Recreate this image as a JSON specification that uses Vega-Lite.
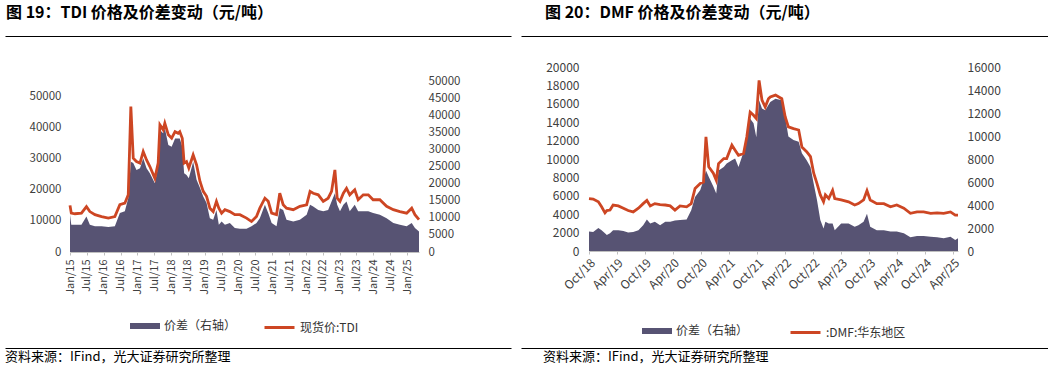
{
  "$schema": "https://vega.github.io/schema/vega-lite/v6.json",
  "padding": {"left": 5, "top": 5, "right": 0, "bottom": 0},
  "background": "white",
  "config": {
    "font": "Noto Sans CJK SC",
    "view": {"stroke": null},
    "legend": {"layout": {"bottom": {"anchor": "middle", "margin": 26}}}
  },
  "spacing": 10,
  "align": "each",
  "hconcat": [
    {
      "spacing": 14,
      "vconcat": [
        {
          "width": 441,
          "height": 25,
          "title": {"text": "图 19：TDI 价格及价差变动（元/吨）", "anchor": "start", "frame": "bounds", "fontSize": 16, "fontWeight": "bold", "color": "#000", "offset": 2, "baseline": "alphabetic", "dx": 1},
          "data": {"values": [{"v": 0}]},
          "encoding": {"y": {"field": "v", "type": "quantitative", "scale": {"domain": [0, 1]}, "axis": null}},
          "layer": [
            {"mark": {"type": "point", "opacity": 0, "size": 0},
             "encoding": {"x": {"field": "v", "type": "quantitative", "scale": {"domain": [0, 1]}, "axis": {"orient": "top", "position": -65, "labels": false, "ticks": false, "grid": false, "title": null, "domainColor": "#000", "domainWidth": 1}}}},
            {"mark": {"type": "point", "opacity": 0, "size": 0},
             "encoding": {"x": {"field": "v", "type": "quantitative", "axis": {"orient": "top", "labels": false, "ticks": false, "grid": false, "title": null, "domainColor": "#000", "domainWidth": 1}}}}
          ],
          "resolve": {"axis": {"x": "independent"}}
        },
        {
          "width": 349,
          "height": 171,
          "data": {"values": [
            {"date": "2015-01-01", "price": 15000, "spread": 10900},
            {"date": "2015-01-15", "price": 12500, "spread": 8000},
            {"date": "2015-02-24", "price": 12300, "spread": 8000},
            {"date": "2015-05-05", "price": 12500, "spread": 8000},
            {"date": "2015-06-28", "price": 14600, "spread": 10400},
            {"date": "2015-08-04", "price": 13000, "spread": 8000},
            {"date": "2015-09-28", "price": 12000, "spread": 7500},
            {"date": "2015-12-09", "price": 11400, "spread": 7500},
            {"date": "2016-02-20", "price": 10900, "spread": 7300},
            {"date": "2016-05-01", "price": 11400, "spread": 7500},
            {"date": "2016-06-24", "price": 15200, "spread": 11400},
            {"date": "2016-08-17", "price": 15700, "spread": 11900},
            {"date": "2016-09-23", "price": 18400, "spread": 15700},
            {"date": "2016-10-21", "price": 46800, "spread": 26400},
            {"date": "2016-11-16", "price": 30200, "spread": 26000},
            {"date": "2016-12-21", "price": 29100, "spread": 24000},
            {"date": "2017-01-28", "price": 28600, "spread": 24500},
            {"date": "2017-03-04", "price": 32300, "spread": 27400},
            {"date": "2017-04-09", "price": 29600, "spread": 24500},
            {"date": "2017-05-15", "price": 27500, "spread": 23000},
            {"date": "2017-07-08", "price": 23700, "spread": 20100},
            {"date": "2017-08-13", "price": 28600, "spread": 25000},
            {"date": "2017-09-01", "price": 40900, "spread": 35700},
            {"date": "2017-10-06", "price": 39300, "spread": 34700},
            {"date": "2017-10-24", "price": 41400, "spread": 36200},
            {"date": "2017-12-01", "price": 37700, "spread": 31300},
            {"date": "2018-01-06", "price": 36600, "spread": 30800},
            {"date": "2018-02-12", "price": 38700, "spread": 33200},
            {"date": "2018-03-17", "price": 38200, "spread": 33200},
            {"date": "2018-04-04", "price": 38700, "spread": 33200},
            {"date": "2018-05-01", "price": 36600, "spread": 30800},
            {"date": "2018-05-21", "price": 28600, "spread": 23000},
            {"date": "2018-06-16", "price": 29100, "spread": 22500},
            {"date": "2018-07-11", "price": 27000, "spread": 21600},
            {"date": "2018-08-27", "price": 31200, "spread": 26400},
            {"date": "2018-10-03", "price": 28000, "spread": 21100},
            {"date": "2018-11-09", "price": 22700, "spread": 18700},
            {"date": "2018-12-14", "price": 19500, "spread": 16200},
            {"date": "2019-01-19", "price": 17900, "spread": 14300},
            {"date": "2019-02-24", "price": 14100, "spread": 9900},
            {"date": "2019-04-01", "price": 13000, "spread": 9400},
            {"date": "2019-05-06", "price": 16300, "spread": 12300},
            {"date": "2019-06-01", "price": 14100, "spread": 8000},
            {"date": "2019-07-01", "price": 12500, "spread": 8900},
            {"date": "2019-08-06", "price": 13600, "spread": 8000},
            {"date": "2019-09-28", "price": 13000, "spread": 8500},
            {"date": "2019-11-21", "price": 12000, "spread": 7000},
            {"date": "2020-01-15", "price": 12000, "spread": 6800},
            {"date": "2020-03-27", "price": 10900, "spread": 6800},
            {"date": "2020-05-20", "price": 9800, "spread": 7500},
            {"date": "2020-07-13", "price": 11400, "spread": 8500},
            {"date": "2020-08-18", "price": 14100, "spread": 9900},
            {"date": "2020-10-12", "price": 17300, "spread": 13800},
            {"date": "2020-11-17", "price": 16300, "spread": 11400},
            {"date": "2020-12-24", "price": 12500, "spread": 8500},
            {"date": "2021-02-15", "price": 12000, "spread": 7500},
            {"date": "2021-03-22", "price": 18900, "spread": 12800},
            {"date": "2021-04-28", "price": 15200, "spread": 12300},
            {"date": "2021-06-03", "price": 14100, "spread": 9400},
            {"date": "2021-08-15", "price": 13600, "spread": 8900},
            {"date": "2021-10-26", "price": 14700, "spread": 9400},
            {"date": "2022-01-07", "price": 15200, "spread": 10900},
            {"date": "2022-02-13", "price": 19500, "spread": 13800},
            {"date": "2022-03-19", "price": 18900, "spread": 13300},
            {"date": "2022-05-13", "price": 18400, "spread": 12300},
            {"date": "2022-07-06", "price": 16300, "spread": 11900},
            {"date": "2022-08-28", "price": 17300, "spread": 12300},
            {"date": "2022-10-04", "price": 19500, "spread": 14800},
            {"date": "2022-11-09", "price": 26400, "spread": 17200},
            {"date": "2022-12-04", "price": 17300, "spread": 13800},
            {"date": "2023-01-03", "price": 16300, "spread": 11900},
            {"date": "2023-02-09", "price": 18900, "spread": 13800},
            {"date": "2023-03-15", "price": 20500, "spread": 14800},
            {"date": "2023-04-19", "price": 18400, "spread": 11900},
            {"date": "2023-06-12", "price": 20000, "spread": 13800},
            {"date": "2023-07-19", "price": 16800, "spread": 11900},
            {"date": "2023-09-12", "price": 18400, "spread": 11900},
            {"date": "2023-11-06", "price": 18400, "spread": 11900},
            {"date": "2023-12-28", "price": 16800, "spread": 11400},
            {"date": "2024-03-10", "price": 16800, "spread": 10900},
            {"date": "2024-05-22", "price": 14700, "spread": 9900},
            {"date": "2024-08-03", "price": 13600, "spread": 8500},
            {"date": "2024-10-13", "price": 13000, "spread": 8000},
            {"date": "2024-12-25", "price": 12500, "spread": 7500},
            {"date": "2025-02-18", "price": 14100, "spread": 8500},
            {"date": "2025-03-25", "price": 12000, "spread": 7000},
            {"date": "2025-05-08", "price": 10400, "spread": 6000}
          ]},
          "encoding": {
            "x": {"field": "date", "type": "temporal", "scale": {"type": "utc", "domain": [1420070400000, 1746662400000]},
              "axis": {"title": null, "grid": false, "format": "%b/%y", "labelAngle": -90, "labelFontSize": 11, "labelColor": "#404040", "labelOverlap": false, "domainColor": "#bfbfbf", "tickColor": "#bfbfbf", "tickSize": 3, "labelPadding": 4,
                "values": [1420070400000, 1435708800000, 1451606400000, 1467331200000, 1483228800000, 1498867200000, 1514764800000, 1530403200000, 1546300800000, 1561939200000, 1577836800000, 1593561600000, 1609459200000, 1625097600000, 1640995200000, 1656633600000, 1672531200000, 1688169600000, 1704067200000, 1719792000000, 1735689600000]}}
          },
          "layer": [
            {
              "mark": {"type": "area", "color": "#575373"},
              "encoding": {
                "y": {"field": "spread", "type": "quantitative", "scale": {"domain": [0, 50000]},
                  "axis": {"orient": "right", "title": null, "grid": false, "domain": false, "ticks": false, "format": "d", "labelPadding": 9, "labelFontSize": 11.5, "labelColor": "#404040", "labelOverlap": false, "values": [0, 5000, 10000, 15000, 20000, 25000, 30000, 35000, 40000, 45000, 50000]}},
                "fill": {"datum": "价差（右轴）", "type": "nominal", "scale": {"range": ["#575373"]},
                  "legend": {"orient": "bottom", "title": null, "symbolType": "M-1,-0.2H1V0.2H-1Z", "symbolSize": 900, "symbolStrokeWidth": 0, "labelFontSize": 12, "labelColor": "#333", "offset": 16}}
              }
            },
            {
              "mark": {"type": "line", "strokeWidth": 2.8},
              "encoding": {
                "y": {"field": "price", "type": "quantitative", "scale": {"domain": [0, 55000]},
                  "axis": {"orient": "left", "title": null, "grid": false, "domain": false, "ticks": false, "format": "d", "labelPadding": 9, "labelFontSize": 11.5, "labelColor": "#404040", "labelOverlap": false, "values": [0, 10000, 20000, 30000, 40000, 50000]}},
                "stroke": {"datum": "现货价:TDI", "type": "nominal", "scale": {"range": ["#cd4623"]},
                  "legend": {"orient": "bottom", "title": null, "symbolType": "stroke", "symbolSize": 900, "symbolStrokeWidth": 3, "labelFontSize": 12, "labelColor": "#333", "offset": 16}}
              }
            }
          ],
          "resolve": {"scale": {"y": "independent", "fill": "independent", "stroke": "independent"}}
        },
        {
          "width": 441,
          "height": 1,
          "title": {"text": "资料来源：IFind，光大证券研究所整理", "orient": "bottom", "anchor": "start", "frame": "bounds", "fontSize": 13, "fontWeight": "normal", "color": "#000", "offset": 12, "baseline": "alphabetic"},
          "data": {"values": [{"v": 0}]},
          "encoding": {"y": {"field": "v", "type": "quantitative", "scale": {"domain": [0, 1]}, "axis": null}},
          "layer": [
            {"mark": {"type": "point", "opacity": 0, "size": 0},
             "encoding": {"x": {"field": "v", "type": "quantitative", "scale": {"domain": [0, 1]}, "axis": {"orient": "top", "position": -65, "labels": false, "ticks": false, "grid": false, "title": null, "domainColor": "#000", "domainWidth": 1}}}},
            {"mark": {"type": "point", "opacity": 0, "size": 0},
             "encoding": {"x": {"field": "v", "type": "quantitative", "axis": {"orient": "top", "labels": false, "ticks": false, "grid": false, "title": null, "domainColor": "#000", "domainWidth": 1}}}}
          ],
          "resolve": {"axis": {"x": "independent"}}
        }
      ]
    },
    {
      "spacing": 2,
      "vconcat": [
        {
          "width": 459,
          "height": 23,
          "title": {"text": "图 20：DMF 价格及价差变动（元/吨）", "anchor": "start", "frame": "bounds", "fontSize": 16, "fontWeight": "bold", "color": "#000", "offset": 2, "baseline": "alphabetic", "dx": 24},
          "data": {"values": [{"v": 0}]},
          "encoding": {"y": {"field": "v", "type": "quantitative", "scale": {"domain": [0, 1]}, "axis": null}},
          "layer": [
            {"mark": {"type": "point", "opacity": 0, "size": 0},
             "encoding": {"x": {"field": "v", "type": "quantitative", "scale": {"domain": [0, 1]}, "axis": {"orient": "top", "position": -68, "labels": false, "ticks": false, "grid": false, "title": null, "domainColor": "#000", "domainWidth": 1}}}},
            {"mark": {"type": "point", "opacity": 0, "size": 0},
             "encoding": {"x": {"field": "v", "type": "quantitative", "axis": {"orient": "top", "labels": false, "ticks": false, "grid": false, "title": null, "domainColor": "#000", "domainWidth": 1}}}}
          ],
          "resolve": {"axis": {"x": "independent"}}
        },
        {
          "width": 369,
          "height": 184,
          "data": {"values": [
            {"date": "2018-10-01", "price": 5700, "spread": 1700},
            {"date": "2018-10-28", "price": 5650, "spread": 1650},
            {"date": "2018-12-01", "price": 5350, "spread": 2000},
            {"date": "2018-12-22", "price": 4800, "spread": 1800},
            {"date": "2019-01-13", "price": 4150, "spread": 1550},
            {"date": "2019-01-25", "price": 4400, "spread": 1400},
            {"date": "2019-02-15", "price": 4450, "spread": 1550},
            {"date": "2019-03-07", "price": 5000, "spread": 1800},
            {"date": "2019-04-10", "price": 4900, "spread": 1800},
            {"date": "2019-05-13", "price": 4650, "spread": 1750},
            {"date": "2019-06-13", "price": 4400, "spread": 1600},
            {"date": "2019-07-16", "price": 4250, "spread": 1650},
            {"date": "2019-08-19", "price": 4650, "spread": 1800},
            {"date": "2019-09-19", "price": 5150, "spread": 2250},
            {"date": "2019-10-13", "price": 5500, "spread": 2750},
            {"date": "2019-11-04", "price": 4900, "spread": 2400},
            {"date": "2019-12-04", "price": 5150, "spread": 2550},
            {"date": "2020-01-07", "price": 5050, "spread": 2250},
            {"date": "2020-02-10", "price": 5000, "spread": 2550},
            {"date": "2020-03-13", "price": 4900, "spread": 2550},
            {"date": "2020-04-13", "price": 4450, "spread": 2650},
            {"date": "2020-05-16", "price": 4900, "spread": 2700},
            {"date": "2020-06-28", "price": 4800, "spread": 2750},
            {"date": "2020-07-28", "price": 5150, "spread": 3550},
            {"date": "2020-08-22", "price": 6800, "spread": 4700},
            {"date": "2020-09-25", "price": 7350, "spread": 5300},
            {"date": "2020-10-16", "price": 7500, "spread": 6150},
            {"date": "2020-11-01", "price": 12400, "spread": 7000},
            {"date": "2020-11-19", "price": 9150, "spread": 6450},
            {"date": "2020-12-19", "price": 8450, "spread": 5600},
            {"date": "2021-01-07", "price": 7700, "spread": 5000},
            {"date": "2021-01-22", "price": 9500, "spread": 7000},
            {"date": "2021-02-25", "price": 10050, "spread": 7300},
            {"date": "2021-03-16", "price": 10050, "spread": 7600},
            {"date": "2021-04-19", "price": 11500, "spread": 7900},
            {"date": "2021-05-10", "price": 10950, "spread": 8050},
            {"date": "2021-06-01", "price": 10400, "spread": 7300},
            {"date": "2021-07-04", "price": 10600, "spread": 8600},
            {"date": "2021-07-25", "price": 12400, "spread": 10200},
            {"date": "2021-08-16", "price": 15100, "spread": 11500},
            {"date": "2021-09-07", "price": 14750, "spread": 11100},
            {"date": "2021-09-25", "price": 14400, "spread": 9900},
            {"date": "2021-10-13", "price": 18550, "spread": 13100},
            {"date": "2021-11-01", "price": 16400, "spread": 12400},
            {"date": "2021-11-22", "price": 15650, "spread": 12250},
            {"date": "2021-12-13", "price": 16550, "spread": 12700},
            {"date": "2021-12-25", "price": 16750, "spread": 12950},
            {"date": "2022-01-28", "price": 16950, "spread": 13250},
            {"date": "2022-03-10", "price": 16550, "spread": 13100},
            {"date": "2022-04-01", "price": 14600, "spread": 11650},
            {"date": "2022-04-22", "price": 13500, "spread": 9950},
            {"date": "2022-05-25", "price": 13300, "spread": 9650},
            {"date": "2022-06-28", "price": 13150, "spread": 9500},
            {"date": "2022-07-19", "price": 11300, "spread": 8500},
            {"date": "2022-08-19", "price": 10800, "spread": 7900},
            {"date": "2022-09-13", "price": 10250, "spread": 7300},
            {"date": "2022-10-04", "price": 8450, "spread": 5850},
            {"date": "2022-10-25", "price": 7350, "spread": 4450},
            {"date": "2022-11-16", "price": 6100, "spread": 2700},
            {"date": "2022-12-07", "price": 5350, "spread": 1950},
            {"date": "2022-12-19", "price": 6100, "spread": 2550},
            {"date": "2023-01-10", "price": 5700, "spread": 2400},
            {"date": "2023-02-04", "price": 6600, "spread": 2400},
            {"date": "2023-02-18", "price": 5700, "spread": 1800},
            {"date": "2023-04-01", "price": 5550, "spread": 2400},
            {"date": "2023-05-19", "price": 5350, "spread": 2400},
            {"date": "2023-06-28", "price": 5000, "spread": 2100},
            {"date": "2023-07-22", "price": 5150, "spread": 2250},
            {"date": "2023-08-25", "price": 5550, "spread": 2550},
            {"date": "2023-09-16", "price": 6550, "spread": 3250},
            {"date": "2023-10-07", "price": 5550, "spread": 2100},
            {"date": "2023-11-19", "price": 5150, "spread": 1800},
            {"date": "2024-01-04", "price": 5150, "spread": 1800},
            {"date": "2024-02-16", "price": 4800, "spread": 1700},
            {"date": "2024-03-28", "price": 5000, "spread": 1700},
            {"date": "2024-05-13", "price": 4650, "spread": 1550},
            {"date": "2024-06-25", "price": 4100, "spread": 1200},
            {"date": "2024-08-07", "price": 4250, "spread": 1300},
            {"date": "2024-09-19", "price": 4250, "spread": 1300},
            {"date": "2024-11-04", "price": 4100, "spread": 1250},
            {"date": "2024-12-16", "price": 4150, "spread": 1200},
            {"date": "2025-01-28", "price": 4100, "spread": 1100},
            {"date": "2025-03-13", "price": 4250, "spread": 1250},
            {"date": "2025-04-13", "price": 3900, "spread": 950},
            {"date": "2025-05-01", "price": 3900, "spread": 1100}
          ]},
          "encoding": {
            "x": {"field": "date", "type": "temporal", "scale": {"type": "utc", "domain": [1538352000000, 1746057600000]},
              "axis": {"title": null, "grid": false, "format": "%b/%y", "labelAngle": -45, "labelFontSize": 12, "labelColor": "#404040", "labelOverlap": false, "domainColor": "#bfbfbf", "tickColor": "#bfbfbf", "tickSize": 3, "labelPadding": 3,
                "values": [1538352000000, 1554076800000, 1569888000000, 1585699200000, 1601510400000, 1617235200000, 1633046400000, 1648771200000, 1664582400000, 1680307200000, 1696118400000, 1711929600000, 1727740800000, 1743465600000]}}
          },
          "layer": [
            {
              "mark": {"type": "area", "color": "#575373"},
              "encoding": {
                "y": {"field": "spread", "type": "quantitative", "scale": {"domain": [0, 16000]},
                  "axis": {"orient": "right", "title": null, "grid": false, "domain": false, "ticks": false, "format": "d", "labelPadding": 9, "labelFontSize": 12, "labelColor": "#404040", "labelOverlap": false, "values": [0, 2000, 4000, 6000, 8000, 10000, 12000, 14000, 16000]}},
                "fill": {"datum": "价差（右轴）", "type": "nominal", "scale": {"range": ["#575373"]},
                  "legend": {"orient": "bottom", "title": null, "symbolType": "M-1,-0.2H1V0.2H-1Z", "symbolSize": 900, "symbolStrokeWidth": 0, "labelFontSize": 12, "labelColor": "#333", "offset": 17, "padding": 7}}
              }
            },
            {
              "mark": {"type": "line", "strokeWidth": 2.8},
              "encoding": {
                "y": {"field": "price", "type": "quantitative", "scale": {"domain": [0, 20000]},
                  "axis": {"orient": "left", "title": null, "grid": false, "domain": false, "ticks": false, "format": "d", "labelPadding": 10, "labelFontSize": 12, "labelColor": "#404040", "labelOverlap": false, "values": [0, 2000, 4000, 6000, 8000, 10000, 12000, 14000, 16000, 18000, 20000]}},
                "stroke": {"datum": ":DMF:华东地区", "type": "nominal", "scale": {"range": ["#cd4623"]},
                  "legend": {"orient": "bottom", "title": null, "symbolType": "stroke", "symbolSize": 900, "symbolStrokeWidth": 3, "labelFontSize": 12, "labelColor": "#333", "offset": 17, "padding": 7}}
              }
            }
          ],
          "resolve": {"scale": {"y": "independent", "fill": "independent", "stroke": "independent"}}
        },
        {
          "width": 459,
          "height": 1,
          "title": {"text": "资料来源：IFind，光大证券研究所整理", "orient": "bottom", "anchor": "start", "frame": "bounds", "fontSize": 13, "fontWeight": "normal", "color": "#000", "offset": 12, "baseline": "alphabetic", "dx": 22},
          "data": {"values": [{"v": 0}]},
          "encoding": {"y": {"field": "v", "type": "quantitative", "scale": {"domain": [0, 1]}, "axis": null}},
          "layer": [
            {"mark": {"type": "point", "opacity": 0, "size": 0},
             "encoding": {"x": {"field": "v", "type": "quantitative", "scale": {"domain": [0, 1]}, "axis": {"orient": "top", "position": -68, "labels": false, "ticks": false, "grid": false, "title": null, "domainColor": "#000", "domainWidth": 1}}}},
            {"mark": {"type": "point", "opacity": 0, "size": 0},
             "encoding": {"x": {"field": "v", "type": "quantitative", "axis": {"orient": "top", "labels": false, "ticks": false, "grid": false, "title": null, "domainColor": "#000", "domainWidth": 1}}}}
          ],
          "resolve": {"axis": {"x": "independent"}}
        }
      ]
    }
  ]
}
